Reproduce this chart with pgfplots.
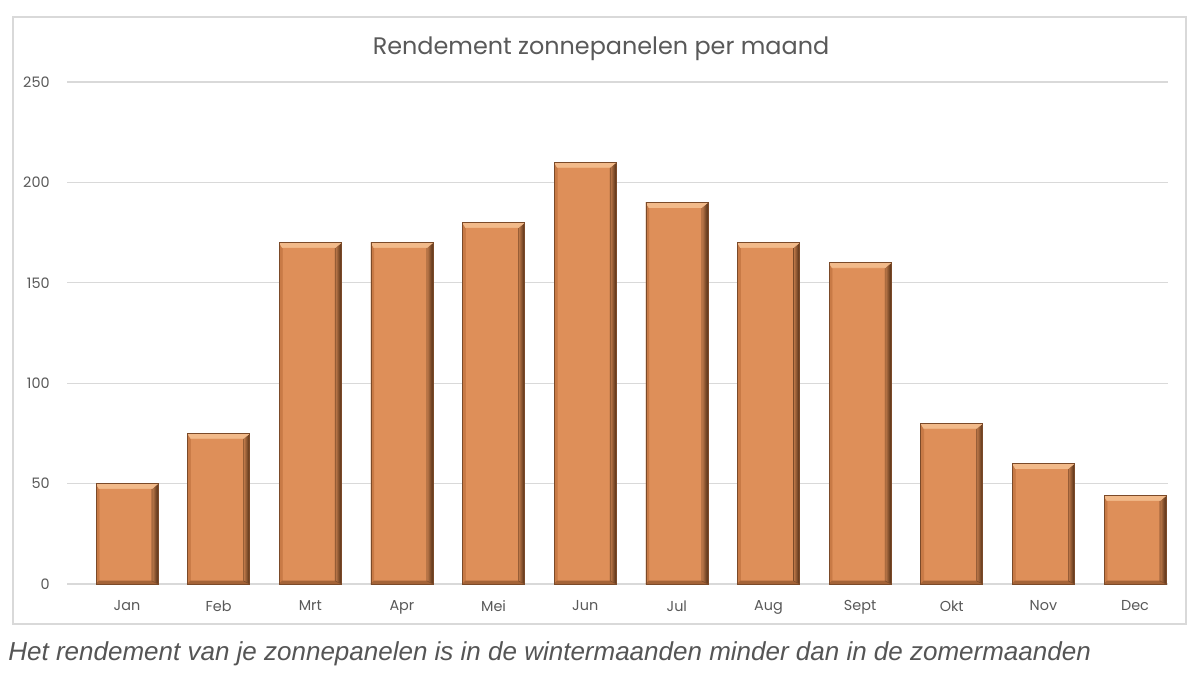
\documentclass[border=0pt]{standalone}
\usepackage{pgfplots}
\pgfplotsset{compat=1.18}
\usepackage{fontspec}
\setmainfont{Liberation Sans}
\newfontfamily\chartfont{Poppins}
\definecolor{barc}{RGB}{222,143,89}
\definecolor{barhi}{RGB}{242,186,138}
\definecolor{bardk}{RGB}{80,45,20}
\definecolor{barmid}{RGB}{200,122,70}
\definecolor{gridc}{RGB}{217,217,217}
\definecolor{txt}{RGB}{89,89,89}
\definecolor{cap}{RGB}{85,85,85}
\def\bevelguard{1}
\tikzset{
  bevel/.style={
    path picture={%
      \ifnum\bevelguard=1 \def\bevelguard{0}%
      \coordinate (nw) at (path picture bounding box.north west);
      \coordinate (ne) at (path picture bounding box.north east);
      \coordinate (sw) at (path picture bounding box.south west);
      \coordinate (se) at (path picture bounding box.south east);
      \fill[barmid] (nw) -- (sw) -- ([xshift=1.5pt,yshift=1.5pt]sw) -- ([xshift=1.5pt,yshift=-2.5pt]nw) -- cycle;
      \fill[barmid!70!bardk] (sw) -- (se) -- ([xshift=-3pt,yshift=1.5pt]se) -- ([xshift=1.5pt,yshift=1.5pt]sw) -- cycle;
      \shade[left color=barc!80!bardk, right color=bardk] (ne) -- (se) -- ([xshift=-3pt,yshift=1.5pt]se) -- ([xshift=-3pt,yshift=-2.5pt]ne) -- cycle;
      \fill[barhi] (nw) -- (ne) -- ([xshift=-3pt,yshift=-2.5pt]ne) -- ([xshift=1.5pt,yshift=-2.5pt]nw) -- cycle;
      \fi
    }
  },
  mybar/.style={fill=barc, draw=bardk!70!barc, line width=0.3pt, bevel}
}
\begin{document}
\begin{tikzpicture}
\useasboundingbox[fill=white] (0,0) rectangle (600pt,337.5pt);
\draw[gridc, line width=0.6pt] (6.5pt,25.5pt) rectangle (593pt,329pt);
\begin{axis}[
  at={(33.5pt,45.5pt)}, anchor=south west,
  scale only axis, width=550.5pt, height=251pt,
  xmin=-0.655, xmax=11.36, ymin=0, ymax=250,
  axis line style={draw=none},
  ymajorgrids, grid style={gridc, line width=0.6pt},
  ytick={0,50,100,150,200,250},
  xtick={0,1,2,3,4,5,6,7,8,9,10,11},
  xticklabels={Jan,Feb,Mrt,Apr,Mei,Jun,Jul,Aug,Sept,Okt,Nov,Dec},
  major tick length=0pt,
  tick label style={font=\chartfont\fontsize{7.2pt}{9pt}\selectfont, text=txt},
  /pgf/number format/assume math mode=true,
  yticklabel style={inner sep=0pt, xshift=-8.5pt},
  xticklabel style={inner sep=0pt, yshift=-8pt},
  ybar, bar width=31pt, bar shift=0pt,
  clip=false,
]
\addplot[mybar] coordinates {(0,50)};
\addplot[mybar] coordinates {(1,75)};
\addplot[mybar] coordinates {(2,170)};
\addplot[mybar] coordinates {(3,170)};
\addplot[mybar] coordinates {(4,180)};
\addplot[mybar] coordinates {(5,210)};
\addplot[mybar] coordinates {(6,190)};
\addplot[mybar] coordinates {(7,170)};
\addplot[mybar] coordinates {(8,160)};
\addplot[mybar] coordinates {(9,80)};
\addplot[mybar] coordinates {(10,60)};
\addplot[mybar] coordinates {(11,44)};
\end{axis}
\node[anchor=base, text=txt, font=\chartfont\fontsize{11.95pt}{15pt}\selectfont] at (300.5pt,310pt) {Rendement zonnepanelen per maand};
\node[anchor=base west, inner sep=0pt, text=cap, font=\itshape\fontsize{13pt}{15pt}\selectfont] at (4pt,7.5pt) {Het rendement van je zonnepanelen is in de wintermaanden minder dan in de zomermaanden};
\end{tikzpicture}
\end{document}
